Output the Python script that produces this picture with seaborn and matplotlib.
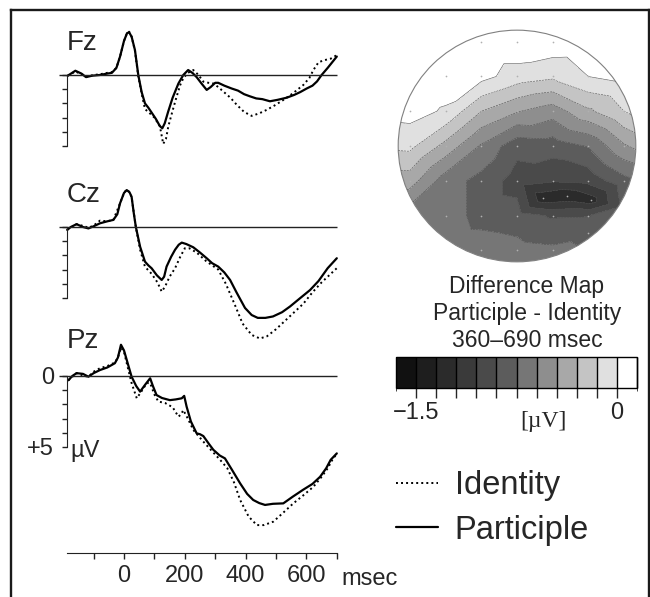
import numpy as np
import matplotlib
matplotlib.use("Agg")
import matplotlib.pyplot as plt
import matplotlib.colors as mcolors
import matplotlib.tri as mtri
from matplotlib.lines import Line2D
from matplotlib.patches import Circle
import seaborn as sns

# ---------------- ERP waveforms (time in ms, amplitude in uV, + is plotted down) ----------------
fz_t_pa = [-185, -160, -140, -125, -105, -80, -55, -40, -25, -13, 0, 10, 17, 25, 36, 47, 58, 69, 80, 91,
           105, 118, 126, 134, 145, 160, 179, 195, 211, 225, 239, 255, 272, 285, 300, 310, 330, 354, 375,
           395, 414, 435, 455, 480, 505, 535, 560, 580, 601, 620, 635, 650, 670, 685, 700]
fz_pa = [0.05, -0.3, -0.1, 0.15, 0.05, 0.0, -0.1, -0.15, -0.5, -1.3, -2.4, -2.95, -3.0, -2.7, -1.76, 0.0,
         1.2, 2.0, 2.3, 2.65, 3.1, 3.6, 3.75, 3.4, 2.6, 1.6, 0.6, 0.0, -0.35, -0.15, 0.15, 0.6, 1.05, 0.85,
         0.55, 0.55, 0.75, 0.95, 1.1, 1.35, 1.5, 1.65, 1.7, 1.85, 1.75, 1.6, 1.4, 1.2, 0.95, 0.75, 0.45,
         0.0, -0.5, -0.9, -1.3]
fz_t_id = [-185, -160, -140, -120, -100, -80, -55, -40, -25, -13, 0, 10, 17, 25, 36, 47, 60, 69, 85, 100,
           118, 129, 138, 146, 160, 173, 185, 195, 210, 228, 245, 261, 278, 294, 310, 327, 350, 371, 395,
           420, 445, 469, 495, 524, 555, 590, 610, 623, 640, 660, 680, 700]
fz_id = [0.05, -0.25, -0.05, 0.1, 0.0, -0.05, -0.15, -0.2, -0.5, -1.3, -2.4, -2.95, -3.05, -2.7, -1.7, 0.1,
         1.5, 2.4, 2.7, 3.0, 3.6, 4.85, 4.5, 3.6, 2.5, 1.53, 0.7, 0.23, -0.15, -0.35, 0.0, 0.47, 0.55, 0.6,
         0.85, 1.17, 1.6, 2.1, 2.6, 2.88, 2.7, 2.46, 2.15, 1.76, 1.3, 0.7, 0.2, -0.35, -0.9, -1.05, -1.15, -1.4]

cz_t_pa = [-187, -175, -156, -135, -117, -100, -79, -55, -35, -22, -13, 0, 9, 18, 25, 32, 39, 53, 69, 80,
           91, 108, 124, 132, 140, 155, 168, 180, 190, 205, 228, 250, 272, 290, 310, 330, 349, 370, 398,
           420, 440, 465, 490, 520, 546, 580, 612, 640, 670, 700]
cz_pa = [0.2, 0.0, -0.2, 0.0, 0.1, -0.05, -0.26, -0.4, -0.5, -0.9, -1.67, -2.4, -2.6, -2.45, -2.13, -1.0,
         0.0, 1.39, 2.44, 2.7, 2.91, 3.4, 3.73, 3.5, 2.79, 2.1, 1.6, 1.25, 1.1, 1.2, 1.43, 1.8, 2.2, 2.55,
         2.79, 3.2, 3.73, 4.6, 5.7, 6.2, 6.4, 6.4, 6.3, 6.0, 5.6, 5.0, 4.44, 3.8, 2.9, 2.2]
cz_t_id = [-187, -156, -130, -117, -100, -79, -55, -35, -13, 0, 9, 18, 25, 39, 53, 69, 91, 110, 124, 135,
           150, 168, 185, 200, 215, 239, 270, 290, 310, 335, 365, 390, 420, 447, 470, 500, 530, 560, 590,
           620, 650, 675, 700]
cz_id = [0.2, -0.2, -0.05, 0.05, -0.1, -0.45, -0.4, -0.5, -1.67, -2.4, -2.65, -2.45, -2.1, 0.0, 1.6, 2.8,
         3.3, 3.9, 4.55, 4.2, 3.5, 2.9, 2.1, 1.5, 1.5, 1.8, 2.4, 2.7, 3.0, 4.0, 5.5, 6.8, 7.6, 7.85, 7.7,
         7.2, 6.6, 6.0, 5.4, 4.6, 3.9, 3.4, 2.9]

pz_t_pa = [-183, -170, -156, -135, -117, -100, -79, -55, -30, -20, -10, 0, 9, 25, 40, 53, 70, 86, 95, 107,
           125, 151, 170, 190, 198, 206, 220, 239, 250, 261, 280, 294, 315, 332, 355, 382, 405, 425, 445,
           464, 490, 524, 555, 590, 620, 645, 665, 680, 700]
pz_pa = [0.3, 0.0, -0.2, -0.15, 0.05, -0.2, -0.42, -0.6, -0.9, -1.3, -2.2, -1.8, -1.13, 0.05, 0.7, 1.1,
         0.6, 0.16, 0.7, 1.34, 1.55, 1.7, 1.65, 1.57, 1.4, 2.16, 3.2, 4.04, 4.1, 4.23, 4.8, 5.2, 5.6, 5.8,
         6.6, 7.56, 8.3, 8.73, 8.95, 9.08, 9.0, 8.97, 8.5, 8.0, 7.6, 7.1, 6.5, 5.9, 5.45]
pz_t_id = [-183, -156, -130, -117, -100, -79, -55, -30, -20, -10, 0, 9, 25, 42, 60, 75, 86, 100, 113, 135,
           160, 179, 188, 195, 210, 228, 260, 290, 316, 340, 362, 382, 410, 437, 460, 491, 520, 557, 590,
           623, 650, 670, 688, 700]
pz_id = [0.3, -0.2, 0.0, 0.05, -0.3, -0.55, -0.7, -0.95, -1.3, -2.0, -1.7, -0.9, 0.5, 1.57, 1.0, 0.5, 0.5,
         1.3, 1.8, 1.9, 2.2, 2.86, 2.7, 2.4, 3.0, 3.8, 4.6, 5.3, 5.9, 6.5, 7.5, 8.73, 9.9, 10.5, 10.5,
         10.26, 9.7, 8.97, 8.4, 7.8, 7.1, 6.5, 5.8, 5.5]

time_ticks = [-100, 0, 100, 200, 300, 400, 500, 600, 700]
time_labels = ["", "0", "", "200", "", "400", "", "600", ""]
uv_ticks = [0, 1, 2, 3, 4, 5]

# ---------------- difference map (electrode positions on unit head, uV) ----------------
elec_x = [-0.3, 0.0, 0.3,
          -0.6, -0.3, 0.0, 0.3, 0.6,
          -0.9, -0.6, -0.3, 0.0, 0.3, 0.6, 0.9,
          -0.9, -0.6, -0.3, 0.0, 0.3, 0.6, 0.9,
          -0.9, -0.6, -0.3, 0.0, 0.3, 0.6, 0.9,
          0.22, 0.42, 0.62,
          -0.6, -0.3, 0.0, 0.3, 0.6,
          -0.3, 0.0, 0.3, 0.6]
elec_y = [0.9, 0.9, 0.9,
          0.6, 0.6, 0.6, 0.6, 0.6,
          0.3, 0.3, 0.3, 0.3, 0.3, 0.3, 0.3,
          0.0, 0.0, 0.0, 0.0, 0.0, 0.0, 0.0,
          -0.3, -0.3, -0.3, -0.3, -0.3, -0.3, -0.3,
          -0.45, -0.43, -0.47,
          -0.6, -0.6, -0.6, -0.6, -0.6,
          -0.9, -0.9, -0.9, -0.75]
elec_val = [0.12, 0.12, 0.1,
            0.1, 0.05, -0.07, -0.12, 0.0,
            0.06, -0.02, -0.3, -0.44, -0.53, -0.33, -0.15,
            -0.11, -0.35, -0.62, -0.85, -0.83, -0.74, -0.47,
            -0.38, -0.68, -0.8, -0.97, -1.03, -1.0, -0.8,
            -1.3, -1.32, -1.28,
            -0.68, -0.8, -0.83, -0.92, -0.91,
            -0.68, -0.7, -0.72, -0.78]
rim_deg = [90, 60, 30, 15, 0, -15, -30, -45, -60, -90, -120, -135, -150, -165, 180, 165, 150, 120]
rim_val = [0.12, 0.12, 0.0, -0.1, -0.37, -0.72, -0.8, -0.78, -0.74, -0.68, -0.66, -0.63, -0.6, -0.36,
           -0.12, 0.04, 0.12, 0.12]
rim_r = 1.08

map_levels = [-1.65, -1.5, -1.35, -1.2, -1.05, -0.9, -0.75, -0.6, -0.45, -0.3, -0.15, 0.0, 0.15]
map_colors = ["#111111", "#1e1e1e", "#2b2b2b", "#3a3a3a", "#4a4a4a", "#5c5c5c",
              "#767676", "#8e8e8e", "#a8a8a8", "#c4c4c4", "#e0e0e0", "#ffffff"]
cbar_labels = ["\u22121.5", "", "", "", "", "", "", "", "", "", "0"]

# ---------------- figure ----------------
sns.set_style("white")
plt.rcParams["font.family"] = ["Liberation Sans", "DejaVu Sans"]

W, H = 650, 597
fig = plt.figure(figsize=(W / 100, H / 100), dpi=100)


def px_ax(l, t, r, b):
    return fig.add_axes([l / W, 1 - b / H, (r - l) / W, (b - t) / H])


def px_text(x, y, s, **kw):
    fig.text(x / W, 1 - y / H, s, **kw)


# page frame (left, top, right)
for xs, ys in [([11, 11], [597, 10]), ([11, 649], [10, 10]), ([649, 649], [10, 597])]:
    fig.add_artist(Line2D([x / W for x in xs], [1 - y / H for y in ys], transform=fig.transFigure,
                          color="#1a1a1a", lw=1.7, solid_capstyle="projecting"))

X0_PX, MS_PX, UV_PX = 124, 0.304, 14.2
L_PX, R_PX = 50, 345
axis_t, zero_start, t_end = -187, -214, 700

channels = [("Fz", 75, 50, fz_t_id, fz_id, fz_t_pa, fz_pa),
            ("Cz", 227, 202, cz_t_id, cz_id, cz_t_pa, cz_pa),
            ("Pz", 376, 348, pz_t_id, pz_id, pz_t_pa, pz_pa)]

for name, zero_py, lab_py, t_id, v_id, t_pa, v_pa in channels:
    ax = px_ax(L_PX, zero_py - 60, R_PX, zero_py + 185)
    ax.patch.set_visible(False)
    sns.lineplot(x=t_id, y=v_id, ax=ax, color="black", lw=1.4, linestyle=(0, (1, 1.6)),
                 estimator=None, sort=False)
    sns.lineplot(x=t_pa, y=v_pa, ax=ax, color="black", lw=1.6, estimator=None, sort=False)
    ax.hlines(0, zero_start, t_end, color="#222222", lw=1)
    ax.set_xlim((L_PX - X0_PX) / MS_PX, (R_PX - X0_PX) / MS_PX)
    ax.set_ylim(185 / UV_PX, -60 / UV_PX)
    for s in ["top", "right", "bottom"]:
        ax.spines[s].set_visible(False)
    ax.spines["left"].set_position(("data", axis_t))
    ax.spines["left"].set_bounds(0, 5)
    ax.spines["left"].set_color("#222222")
    ax.set_yticks(uv_ticks)
    ax.tick_params(axis="y", left=True, direction="out", length=3.6, width=1, color="#222222",
                   labelsize=17, pad=6)
    ax.set_xlabel("")
    ax.set_ylabel("")
    if name == "Pz":
        ax.set_yticklabels(["0", "", "", "", "", "+5"])
        ax.spines["bottom"].set_visible(True)
        ax.spines["bottom"].set_position(("data", (553 - zero_py) / UV_PX))
        ax.spines["bottom"].set_bounds(axis_t, t_end)
        ax.spines["bottom"].set_color("#222222")
        ax.set_xticks(time_ticks)
        ax.set_xticklabels(time_labels)
        ax.tick_params(axis="x", bottom=True, direction="out", length=4.5, width=1, color="#222222",
                       labelsize=17, pad=4)
        ax.text((70 - X0_PX) / MS_PX, 5.3, "\u00b5V", fontsize=17, ha="left", va="center")
    else:
        ax.set_yticklabels([])
        ax.set_xticks([])
    px_text(67, lab_py, name, fontsize=20, ha="left", va="baseline")

px_text(341, 585, "msec", fontsize=17, ha="left", va="baseline")

# ---------------- topographic map ----------------
cmap = mcolors.ListedColormap(map_colors)
norm = mcolors.BoundaryNorm(map_levels, cmap.N)

rim_x = list(rim_r * np.cos(np.deg2rad(rim_deg)))
rim_y = list(rim_r * np.sin(np.deg2rad(rim_deg)))
tri = mtri.Triangulation(elec_x + rim_x, elec_y + rim_y)

mx = px_ax(397, 29, 637, 263)
cs = mx.tricontourf(tri, elec_val + rim_val, levels=map_levels, cmap=cmap, norm=norm)
cl = mx.tricontour(tri, elec_val + rim_val, levels=map_levels[1:-1], colors="#505050", linewidths=0.4)
head = Circle((0, 0), 1, transform=mx.transData)
cs.set_clip_path(head)
cl.set_clip_path(head)
mx.add_patch(Circle((0, 0), 1, fill=False, ec="#808080", lw=0.8))
mx.scatter(elec_x, elec_y, s=1.5, color="#b0b0b0", lw=0, zorder=3)
mx.set_xlim(-1.01, 1.01)
mx.set_ylim(-1.01, 1.01)
mx.axis("off")

for i, line in enumerate(["Difference Map", "Participle - Identity", "360\u2013690 msec"]):
    px_text(527, 293 + 27 * i, line, fontsize=16.5, ha="center", va="baseline")

cax = px_ax(396, 357, 637, 388)
cb = fig.colorbar(cs, cax=cax, orientation="horizontal", drawedges=True)
cb.set_ticks(map_levels[1:-1])
cb.set_ticklabels(cbar_labels)
cb.outline.set_linewidth(1)
cb.outline.set_edgecolor("black")
cb.dividers.set_color("black")
cb.dividers.set_linewidth(1)
cax.tick_params(bottom=True, direction="out", length=7, width=1, labelsize=17, pad=3)
px_text(543, 427, "[\u00b5V]", fontsize=17, ha="center", va="baseline",
        family=["Liberation Serif", "DejaVu Serif"])

# ---------------- legend ----------------
handles = [Line2D([], [], color="black", lw=1.4, linestyle=(0, (1, 1.6))),
           Line2D([], [], color="black", lw=1.6)]
fig.legend(handles, ["Identity", "Participle"], loc="upper left",
           bbox_to_anchor=(396 / W, 1 - 470 / H), fontsize=23.5, frameon=False,
           handlelength=1.3, handletextpad=0.5, labelspacing=0.42, borderpad=0, borderaxespad=0)

fig.savefig("out.png", dpi=100)
